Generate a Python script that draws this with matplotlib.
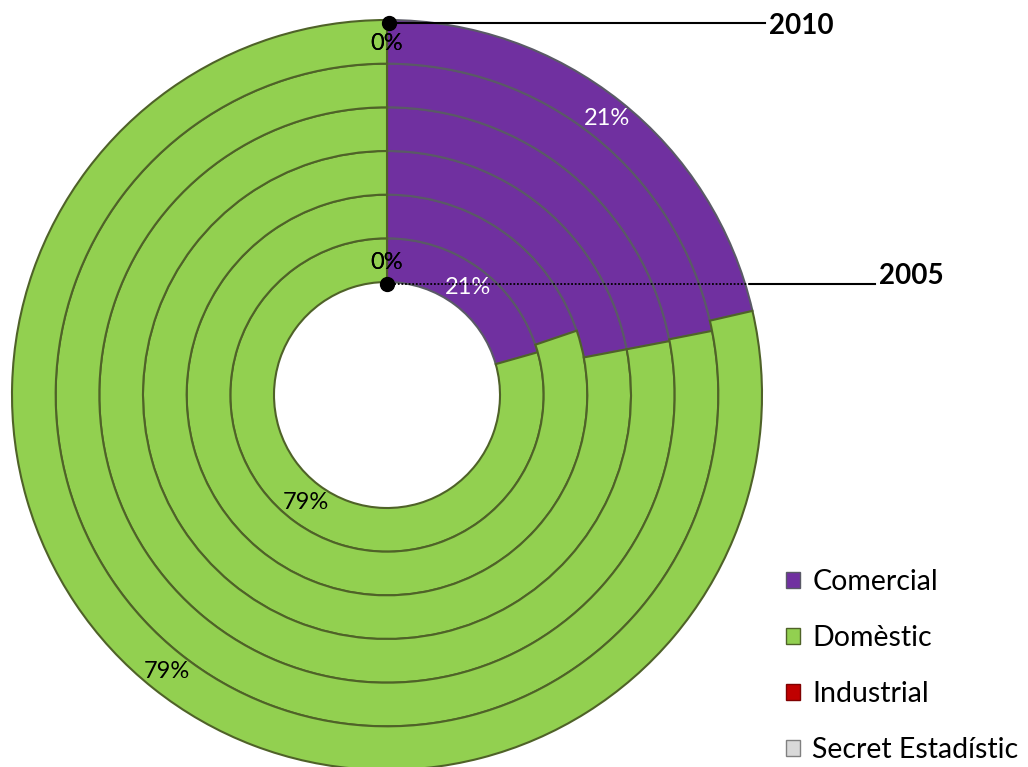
import numpy as np
import matplotlib.pyplot as plt
from matplotlib.patches import Patch

plt.rcParams['font.family'] = ['Lato', 'DejaVu Sans']

years = [2005, 2006, 2007, 2008, 2009, 2010]
categories = ['Comercial', 'Domèstic', 'Industrial', 'Secret Estadístic']
comercial = [20.6, 19.8, 22.0, 22.0, 21.9, 21.4]
domestic = [79.4, 80.2, 78.0, 78.0, 78.1, 78.6]
industrial = [0, 0, 0, 0, 0, 0]
secret = [0, 0, 0, 0, 0, 0]

colors = ['#7030A0', '#92D050', '#C00000', '#D9D9D9']
edges = ['#5A5A66', '#4F6228', '#7F0000', '#808080']

W, H = 1028, 767
fig = plt.figure(figsize=(W / 100, H / 100), dpi=100)
ax = fig.add_axes([0, 0, 1, 1])

cx, cy = 387, H - 395
r_hole = 113
ring_w = (375 - r_hole) / len(years)

for i, yr in enumerate(years):
    vals = [comercial[i], domestic[i], industrial[i], secret[i]]
    r = r_hole + ring_w * (i + 1)
    show = i in (0, len(years) - 1)
    wedges, texts, autotexts = ax.pie(
        vals, colors=colors, radius=r, center=(cx, cy), startangle=90,
        counterclock=False, frame=True,
        autopct=(lambda p, s=show: ('%.0f%%' % p) if s else ''),
        pctdistance=(r - ring_w / 2) / r,
        wedgeprops=dict(width=ring_w, linewidth=1.5),
        textprops=dict(fontsize=17))
    for k, w in enumerate(wedges):
        w.set_edgecolor(edges[k])
        w.set_zorder(3 if k == 1 else 2)
    for k, t in enumerate(autotexts):
        t.set_color('white' if k == 0 else 'black')
        t.set_zorder(5)
        if k >= 2:
            t.set_position((cx, cy + r - ring_w / 2 - 2))

ax.set_xlim(0, W)
ax.set_ylim(0, H)
ax.set_aspect('equal')
ax.axis('off')

# year callouts
ax.plot([389, 765], [H - 23, H - 23], color='black', lw=1.5, zorder=6)
ax.plot([389], [H - 23], 'o', color='black', ms=10, zorder=7)
ax.text(769, H - 26, '2010', fontsize=20, fontweight='bold', va='center', ha='left')

ax.plot([387, 750], [H - 284, H - 284], color='black', lw=1.3, ls=(0, (1, 1)), zorder=6)
ax.plot([750, 875], [H - 284, H - 284], color='black', lw=1.5, zorder=6)
ax.plot([387], [H - 284], 'o', color='black', ms=10, zorder=7)
ax.text(879, H - 276, '2005', fontsize=20, fontweight='bold', va='center', ha='left')

handles = [Patch(facecolor=c, edgecolor=e, lw=1) for c, e in zip(colors, edges)]
ax.legend(handles, categories, loc='lower left', bbox_to_anchor=(786 / W, 4 / H),
          bbox_transform=fig.transFigure, frameon=False, fontsize=20.5,
          handlelength=0.5, handleheight=0.5, handletextpad=0.42,
          labelspacing=1.05, borderpad=0, borderaxespad=0)

fig.savefig('out.png', dpi=100)
